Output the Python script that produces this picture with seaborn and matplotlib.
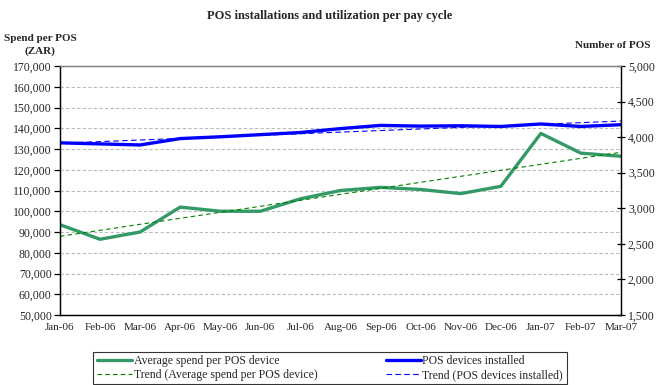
import numpy as np
import pandas as pd
import matplotlib
matplotlib.use("Agg")
import matplotlib.pyplot as plt
import seaborn as sns

months = ["Jan-06", "Feb-06", "Mar-06", "Apr-06", "May-06", "Jun-06", "Jul-06", "Aug-06",
          "Sep-06", "Oct-06", "Nov-06", "Dec-06", "Jan-07", "Feb-07", "Mar-07"]
avg_spend = [93500, 86500, 90000, 102000, 100000, 100000, 106000, 110000,
             111500, 110500, 108500, 112000, 137500, 128000, 126500]
pos_installed = [3920, 3905, 3890, 3980, 4005, 4035, 4065, 4120,
                 4165, 4155, 4160, 4150, 4185, 4150, 4175]

sns.set_style("white")
plt.rcParams["font.family"] = ["Liberation Serif", "DejaVu Serif"]

x = np.arange(len(months))
df = pd.DataFrame({"x": x, "spend": avg_spend, "pos": pos_installed})
df["spend_trend"] = np.polyval(np.polyfit(x, avg_spend, 1), x)
df["pos_trend"] = np.polyval(np.polyfit(x, pos_installed, 1), x)

fig = plt.figure(figsize=(6.6, 3.85), dpi=100)
ax = fig.add_axes([60 / 660, 1 - 315 / 385, 561 / 660, 249 / 385])
ax2 = ax.twinx()

sns.lineplot(data=df, x="x", y="spend", ax=ax, color="#339966", lw=2.4,
             label="Average spend per POS device", legend=False)
sns.lineplot(data=df, x="x", y="spend_trend", ax=ax, color="#008000", lw=0.8,
             linestyle=(0, (4, 3)), label="Trend (Average spend per POS device)", legend=False)
sns.lineplot(data=df, x="x", y="pos", ax=ax2, color="#0000FF", lw=2.4,
             label="POS devices installed", legend=False)
sns.lineplot(data=df, x="x", y="pos_trend", ax=ax2, color="#0000FF", lw=0.8,
             linestyle=(0, (5, 3)), label="Trend (POS devices installed)", legend=False)

ax.set_xlim(0, len(months) - 1)
ax.set_ylim(50000, 170000)
ax.set_yticks(np.arange(50000, 170001, 10000))
ax.set_yticklabels([f"{v:,}" for v in range(50000, 170001, 10000)], fontsize=8.5)
ax.set_xticks(x)
ax.set_xticklabels(months, fontsize=8)
ax2.set_ylim(1500, 5000)
ax2.set_yticks(np.arange(1500, 5001, 500))
ax2.set_yticklabels([f"{v:,}" for v in range(1500, 5001, 500)], fontsize=8.5)
ax.set_xlabel("")
ax.set_ylabel("")
ax2.set_ylabel("")

ax.yaxis.grid(True, color="#bbbbbb", linestyle=(0, (3, 2)), lw=0.8)
ax.set_axisbelow(True)
for a in (ax, ax2):
    a.spines["top"].set_color("#808080")
    a.spines["left"].set_color("black")
    a.spines["bottom"].set_color("black")
    a.spines["right"].set_color("black")
    for s in a.spines.values():
        s.set_linewidth(0.9)
ax.tick_params(axis="both", direction="out", length=4, width=0.9, color="black", pad=2)
ax2.tick_params(axis="y", direction="inout", length=6, width=0.9, color="black", pad=2)

fig.text(0.5, 1 - 16 / 385, "POS installations and utilization per pay cycle",
         ha="center", va="center", fontsize=9, fontweight="bold")
fig.text(40 / 660, 1 - 45 / 385, "Spend per POS\n(ZAR)", ha="center", va="center",
         fontsize=8, fontweight="bold", linespacing=1.4)
fig.text(613 / 660, 1 - 45 / 385, "Number of POS", ha="center", va="center",
         fontsize=8, fontweight="bold")

h1, l1 = ax.get_legend_handles_labels()
h2, l2 = ax2.get_legend_handles_labels()
handles = [h1[0], h1[1], h2[0], h2[1]]
labels = [l1[0], l1[1], l2[0], l2[1]]
leg = fig.legend(handles, labels, loc="center", bbox_to_anchor=(330 / 660, 1 - 368 / 385),
                 ncol=2, fontsize=8.5, frameon=True, fancybox=False, edgecolor="black",
                 handlelength=3.0, handletextpad=0.1, columnspacing=5.8, borderpad=0.3,
                 labelspacing=0.15, borderaxespad=0)
leg.get_frame().set_linewidth(0.8)

fig.savefig("out.png", dpi=100)
